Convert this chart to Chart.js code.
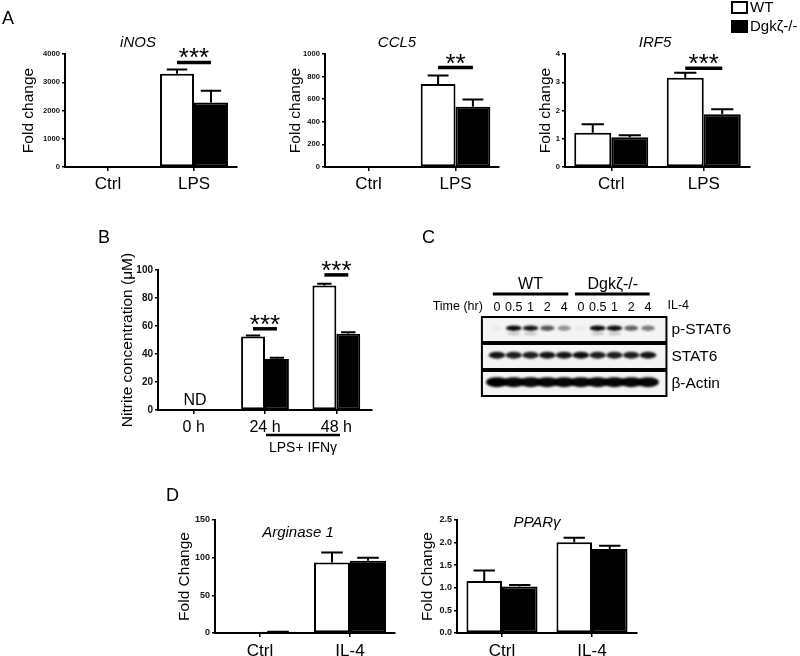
<!DOCTYPE html>
<html>
<head>
<meta charset="utf-8">
<script src="https://cdn.jsdelivr.net/npm/chart.js@4.4.1/dist/chart.umd.min.js"></script>
<style>
  body { margin: 0; background: #fff; }
  #fig { position: relative; width: 800px; height: 656px; overflow: hidden; }
  #fig canvas { position: absolute; left: 0; top: 0; }
</style>
</head>
<body>
<div id="fig">
  <canvas id="inos" width="800" height="656"></canvas>
  <canvas id="ccl5" width="800" height="656"></canvas>
  <canvas id="irf5" width="800" height="656"></canvas>
  <canvas id="nitrite" width="800" height="656"></canvas>
  <canvas id="blot" width="800" height="656"></canvas>
  <canvas id="arg1" width="800" height="656"></canvas>
  <canvas id="pparg" width="800" height="656"></canvas>
</div>
<script>
// --- data ---
const groupsLPS = ['Ctrl', 'LPS'];
const inosWT = [1, 3300], inosWTErr = [0, 150];
const inosKO = [1, 2280], inosKOErr = [0, 420];
const ccl5WT = [1, 735], ccl5WTErr = [0, 75];
const ccl5KO = [1, 533], ccl5KOErr = [0, 65];
const irf5WT = [1.21, 3.16], irf5WTErr = [0.30, 0.18];
const irf5KO = [1.05, 1.87], irf5KOErr = [0.07, 0.17];

const nitriteTimes = ['0 h', '24 h', '48 h'];
const nitriteWT = [0, 52.5, 89], nitriteWTErr = [0, 0.8, 1.2];
const nitriteKO = [0, 36.5, 54.5], nitriteKOErr = [0, 0.8, 1];

const groupsIL4 = ['Ctrl', 'IL-4'];
const arg1WT = [1, 93.5], arg1WTErr = [0, 13.5];
const arg1KO = [1.5, 96], arg1KOErr = [0.3, 4];
const ppargWT = [1.15, 2.01], ppargWTErr = [0.23, 0.10];
const ppargKO = [1.03, 1.86], ppargKOErr = [0.03, 0.07];

const blotLanes = ['0', '0.5', '1', '2', '4', '0', '0.5', '1', '2', '4'];
const blotRows = ['p-STAT6', 'STAT6', 'β-Actin'];
const pSTAT6 = [0.03, 0.97, 0.9, 0.65, 0.4, 0.04, 0.97, 0.95, 0.6, 0.5];
const stat6 = [0.92, 0.88, 0.88, 0.92, 0.92, 0.95, 0.88, 0.88, 0.88, 0.92];
const actin = [1, 0.97, 0.97, 0.97, 0.97, 0.97, 0.97, 0.97, 0.97, 0.97];

const FONT = "'Liberation Sans', Arial, sans-serif";
Chart.defaults.font.family = FONT;
Chart.defaults.color = '#000';

// error bars (up only, GraphPad style)
const errorBars = {
    id: 'errorBars',
    afterDatasetsDraw(chart) {
        const { ctx } = chart;
        const y = chart.scales.y;
        chart.data.datasets.forEach((ds, i) => {
            if (!ds.err) return;
            chart.getDatasetMeta(i).data.forEach((bar, j) => {
                const e = ds.err[j];
                if (!e) return;
                const top = y.getPixelForValue(ds.data[j] + e);
                const cap = bar.width * 0.3;
                ctx.save();
                ctx.strokeStyle = '#000';
                ctx.lineWidth = 2;
                ctx.beginPath();
                ctx.moveTo(bar.x, bar.y);
                ctx.lineTo(bar.x, top);
                ctx.moveTo(bar.x - cap, top);
                ctx.lineTo(bar.x + cap, top);
                ctx.stroke();
                ctx.restore();
            });
        });
    }
};

// significance bars between WT and KO of one group
const sigBars = {
    id: 'sig',
    afterDraw(chart, args, opts) {
        const list = opts.items || [];
        const { ctx } = chart;
        const y = chart.scales.y;
        list.forEach(s => {
            const a = chart.getDatasetMeta(0).data[s.cat];
            const b = chart.getDatasetMeta(1).data[s.cat];
            const py = y.getPixelForValue(s.y);
            ctx.save();
            ctx.strokeStyle = '#000';
            ctx.lineWidth = 3.5;
            ctx.beginPath();
            ctx.moveTo(a.x, py);
            ctx.lineTo(b.x, py);
            ctx.stroke();
            ctx.fillStyle = '#000';
            ctx.font = '26px ' + FONT;
            ctx.textAlign = 'center';
            ctx.textBaseline = 'alphabetic';
            ctx.fillText(s.text, (a.x + b.x) / 2, py + 4);
            ctx.restore();
        });
    }
};

// free text labels (panel letters, titles)
const notes = {
    id: 'notes',
    afterDraw(chart, args, opts) {
        const { ctx } = chart;
        (opts.items || []).forEach(n => {
            ctx.save();
            ctx.fillStyle = '#000';
            ctx.font = (n.style || '') + ' ' + (n.size || 15) + 'px ' + FONT;
            ctx.textAlign = n.align || 'center';
            ctx.textBaseline = 'middle';
            ctx.fillText(n.t, n.x, n.y);
            ctx.restore();
        });
        (opts.lines || []).forEach(l => {
            ctx.save();
            ctx.strokeStyle = '#000';
            ctx.lineWidth = l.w || 2.5;
            ctx.beginPath();
            ctx.moveTo(l.x1, l.y);
            ctx.lineTo(l.x2, l.y);
            ctx.stroke();
            ctx.restore();
        });
    }
};

// legend box at top right, from the datasets
const cornerLegend = {
    id: 'cornerLegend',
    afterDraw(chart, args, opts) {
        if (!opts.show) return;
        const { ctx } = chart;
        chart.data.datasets.forEach((ds, i) => {
            const top = 2 + i * 19;
            ctx.save();
            ctx.fillStyle = ds.backgroundColor;
            ctx.strokeStyle = '#000';
            ctx.lineWidth = 2;
            ctx.fillRect(732, top, 15, 11);
            ctx.strokeRect(732, top, 15, 11);
            ctx.fillStyle = '#000';
            ctx.font = '15px ' + FONT;
            ctx.textBaseline = 'middle';
            ctx.fillText(ds.label, 750, top + 6);
            ctx.restore();
        });
    }
};

function foldChart(id, o) {
    const lh = o.titleSize * 1.2;
    const yW = o.area.l - o.titleX + lh / 2;
    const xH = 30;
    return new Chart(document.getElementById(id), {
        type: 'bar',
        plugins: [errorBars, sigBars, notes, cornerLegend],
        data: {
            labels: o.labels,
            datasets: [
                { label: 'WT', data: o.wt, err: o.wtErr, backgroundColor: '#fff', borderColor: '#000', borderWidth: 2, borderSkipped: false },
                { label: 'Dgkζ-/-', data: o.ko, err: o.koErr, backgroundColor: '#000', borderColor: '#000', borderWidth: 2, borderSkipped: false }
            ]
        },
        options: {
            responsive: false,
            animation: false,
            events: [],
            layout: { padding: { left: o.area.l - yW, top: o.area.t, right: 800 - o.area.r, bottom: 656 - o.area.b - xH } },
            datasets: { bar: { categoryPercentage: o.cat, barPercentage: 1 } },
            plugins: {
                legend: { display: false },
                tooltip: { enabled: false },
                sig: { items: o.sig || [] },
                notes: { items: o.notes || [], lines: o.lines || [] },
                cornerLegend: { show: !!o.legend }
            },
            scales: {
                x: {
                    offset: true,
                    grid: { display: true, drawOnChartArea: false, offset: false, tickLength: 4, color: '#000', lineWidth: 1.5 },
                    border: { display: true, color: '#000', width: 2 },
                    ticks: { font: { size: o.xSize || 17 }, padding: o.xPad || 3, maxRotation: 0, autoSkip: false, color: '#000' },
                    afterFit: s => { s.height = xH; }
                },
                y: {
                    min: 0,
                    max: o.max,
                    grid: { display: true, drawOnChartArea: false, tickLength: 3, color: '#000', lineWidth: 1.5 },
                    border: { display: true, color: '#000', width: 2 },
                    ticks: {
                        stepSize: o.step,
                        font: { size: o.tickSize || 8, weight: 'bold' },
                        padding: 2,
                        color: '#111',
                        callback: o.fmt || (v => v)
                    },
                    title: { display: true, text: o.yTitle, font: { size: o.titleSize }, padding: 0, color: '#000' },
                    afterFit: s => { s.width = yW; }
                }
            }
        }
    });
}

foldChart('inos', {
    labels: groupsLPS, wt: inosWT, wtErr: inosWTErr, ko: inosKO, koErr: inosKOErr,
    max: 4000, step: 1000, tickSize: 7.6, yTitle: 'Fold change', titleSize: 15.5, titleX: 29,
    area: { l: 65, r: 237, t: 54, b: 167 }, cat: 0.79,
    sig: [{ cat: 1, y: 3700, text: '***' }],
    notes: [
        { t: 'A', x: 2, y: 19, size: 18, align: 'left' },
        { t: 'iNOS', x: 138, y: 43, style: 'italic', size: 15 }
    ]
});

foldChart('ccl5', {
    labels: groupsLPS, wt: ccl5WT, wtErr: ccl5WTErr, ko: ccl5KO, koErr: ccl5KOErr,
    max: 1000, step: 200, tickSize: 7.6, yTitle: 'Fold change', titleSize: 15.5, titleX: 296,
    area: { l: 325, r: 499, t: 54, b: 167 }, cat: 0.8,
    sig: [{ cat: 1, y: 880, text: '**' }],
    notes: [{ t: 'CCL5', x: 397, y: 43, style: 'italic', size: 15 }]
});

foldChart('irf5', {
    labels: groupsLPS, wt: irf5WT, wtErr: irf5WTErr, ko: irf5KO, koErr: irf5KOErr,
    max: 4, step: 1, tickSize: 7.6, yTitle: 'Fold change', titleSize: 15.5, titleX: 546,
    area: { l: 565, r: 750, t: 54, b: 167 }, cat: 0.8,
    sig: [{ cat: 1, y: 3.5, text: '***' }],
    legend: true,
    notes: [{ t: 'IRF5', x: 655, y: 43, style: 'italic', size: 15 }]
});

foldChart('nitrite', {
    labels: nitriteTimes, wt: nitriteWT, wtErr: nitriteWTErr, ko: nitriteKO, koErr: nitriteKOErr,
    max: 100, step: 20, tickSize: 10, yTitle: 'Nitrite concentration (μM)', titleSize: 15.5, titleX: 128,
    area: { l: 158, r: 372, t: 270, b: 410 }, cat: 0.67, xSize: 16, xPad: 4,
    sig: [{ cat: 1, y: 58, text: '***' }, { cat: 2, y: 96.5, text: '***' }],
    notes: [
        { t: 'B', x: 98, y: 238, size: 18, align: 'left' },
        { t: 'ND', x: 195, y: 401, size: 16 },
        { t: 'LPS+ IFNγ', x: 303, y: 448, size: 14 }
    ],
    lines: [{ x1: 266, x2: 340, y: 435, w: 2.5 }]
});

foldChart('arg1', {
    labels: groupsIL4, wt: arg1WT, wtErr: arg1WTErr, ko: arg1KO, koErr: arg1KOErr,
    max: 150, step: 50, tickSize: 9, yTitle: 'Fold Change', titleSize: 15.5, titleX: 185,
    area: { l: 215, r: 395, t: 520, b: 633 }, cat: 0.8, xPad: 4,
    notes: [
        { t: 'D', x: 166, y: 496, size: 18, align: 'left' },
        { t: 'Arginase 1', x: 298, y: 533, style: 'italic', size: 15 }
    ]
});

foldChart('pparg', {
    labels: groupsIL4, wt: ppargWT, wtErr: ppargWTErr, ko: ppargKO, koErr: ppargKOErr,
    max: 2.5, step: 0.5, tickSize: 9, yTitle: 'Fold Change', titleSize: 15.5, titleX: 428,
    area: { l: 457, r: 637, t: 520, b: 633 }, cat: 0.79, xPad: 4,
    fmt: v => v.toFixed(1),
    notes: [{ t: 'PPARγ', x: 537, y: 523, style: 'italic', size: 15 }]
});

// --- western blot panel C ---
const blotBands = {
    id: 'blotBands',
    afterDraw(chart) {
        const { ctx } = chart;
        const x = chart.scales.x, y = chart.scales.y;
        const rows = [pSTAT6, stat6, actin];
        const bandH = [5.5, 7, 10];
        const bandW = [8, 8.5, 11];
        const left = x.getPixelForValue(-0.9), right = x.getPixelForValue(10.1);
        rows.forEach((vals, r) => {
            const top = y.getPixelForValue(r) + 1, bot = y.getPixelForValue(r + 1) - 1;
            ctx.save();
            ctx.fillStyle = '#f4f4f4';
            ctx.fillRect(left, top, right - left, bot - top);
            ctx.beginPath();
            ctx.rect(left, top, right - left, bot - top);
            ctx.clip();
            ctx.filter = 'blur(1.2px)';
            const cy = y.getPixelForValue(r + 0.45);
            vals.forEach((v, i) => {
                const cx = x.getPixelForValue(i);
                ctx.fillStyle = 'rgba(0,0,0,' + v + ')';
                ctx.beginPath();
                ctx.ellipse(cx, cy, bandW[r] * (0.7 + 0.3 * v), bandH[r] / 2, 0, 0, Math.PI * 2);
                ctx.fill();
                if (r === 0 && v > 0.8) {
                    ctx.fillStyle = 'rgba(0,0,0,0.2)';
                    ctx.beginPath();
                    ctx.ellipse(cx, cy + 5.5, 6.5, 1.5, 0, 0, Math.PI * 2);
                    ctx.fill();
                }
            });
            ctx.restore();
            ctx.save();
            ctx.strokeStyle = '#000';
            ctx.lineWidth = 2;
            ctx.strokeRect(left, top, right - left, bot - top);
            ctx.fillStyle = '#000';
            ctx.font = '15.5px ' + FONT;
            ctx.textBaseline = 'middle';
            ctx.fillText(blotRows[r], right + 5, (top + bot) / 2);
            ctx.restore();
        });
        ctx.save();
        ctx.fillStyle = '#000';
        ctx.strokeStyle = '#000';
        ctx.lineWidth = 3;
        ctx.beginPath();
        ctx.moveTo(x.getPixelForValue(-0.25), 294);
        ctx.lineTo(x.getPixelForValue(4.25), 294);
        ctx.moveTo(x.getPixelForValue(4.65), 294);
        ctx.lineTo(x.getPixelForValue(9.1), 294);
        ctx.stroke();
        ctx.textAlign = 'center';
        ctx.textBaseline = 'middle';
        ctx.font = '16px ' + FONT;
        ctx.fillText('WT', x.getPixelForValue(2), 285);
        ctx.fillText('Dgkζ-/-', x.getPixelForValue(6.9), 285);
        ctx.font = '12.5px ' + FONT;
        ctx.textAlign = 'right';
        ctx.fillText('Time (hr)', left + 1, 307);
        ctx.textAlign = 'left';
        ctx.fillText('IL-4', right + 1, 306);
        ctx.font = '18px ' + FONT;
        ctx.fillText('C', 422, 238);
        ctx.restore();
    }
};

new Chart(document.getElementById('blot'), {
    type: 'bar',
    plugins: [blotBands],
    data: { labels: blotLanes, datasets: [] },
    options: {
        responsive: false,
        animation: false,
        events: [],
        layout: { padding: { left: 497, right: 800 - 648, top: 300, bottom: 656 - 397 } },
        plugins: { legend: { display: false }, tooltip: { enabled: false } },
        scales: {
            x: {
                type: 'category',
                position: 'top',
                offset: false,
                grid: { display: false, drawTicks: false },
                border: { display: false },
                ticks: { font: { size: 12.5 }, padding: 1, maxRotation: 0, autoSkip: false, color: '#000' },
                afterFit: s => { s.height = 16; }
            },
            y: { type: 'linear', display: false, min: 0, max: 3, reverse: true }
        }
    }
});
</script>
</body>
</html>
